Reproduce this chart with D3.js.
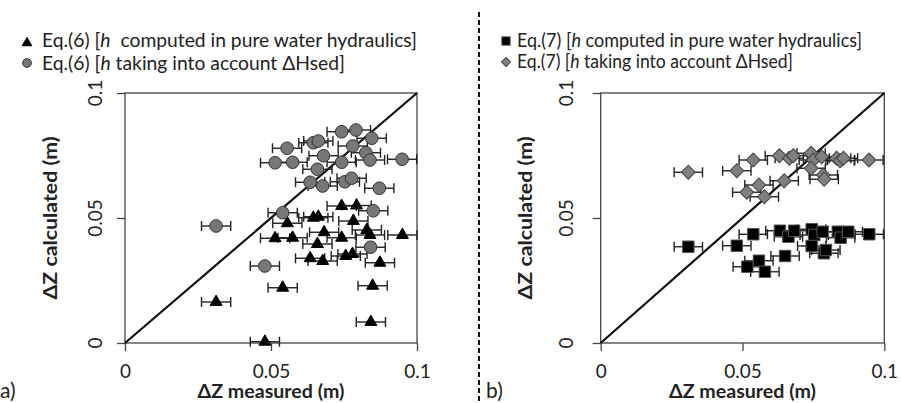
<!DOCTYPE html>
<html>
<head>
<meta charset="utf-8">
<script src="https://cdn.jsdelivr.net/npm/d3@7"></script>
<style>
body{margin:0;background:#fff}
svg{display:block}
text{font-family:Lato,"Open Sans",sans-serif;fill:#222}
</style>
</head>
<body>
<svg id="chart"></svg>
<script>
// axis ticks (both panels, both axes)
var ticks=[0,0.05,0.1];
var tickLabels=["0","0.05","0.1"];
// half width of the horizontal error bars (m)
var xErr=0.005;

// panel a) Eq.(6), h computed in pure water hydraulics (triangles)
var triX=[0.0742,0.0793,0.0645,0.0662,0.0556,0.0782,0.0682,0.0514,0.0574,0.0742,0.0828,0.0839,0.0950,0.0659,0.0634,0.0677,0.0756,0.0779,0.0873,0.0540,0.0848,0.0312,0.0842,0.0479];
var triY=[0.0548,0.0550,0.0501,0.0505,0.0479,0.0488,0.0443,0.0419,0.0421,0.0421,0.0452,0.0432,0.0432,0.0396,0.0339,0.0328,0.0348,0.0356,0.0321,0.0221,0.0229,0.0164,0.0084,0.0005];
// panel a) Eq.(6), h taking into account dHsed (circles)
var cirX=[0.0742,0.0791,0.0845,0.0555,0.0645,0.0662,0.0780,0.0825,0.0680,0.0839,0.0949,0.0514,0.0574,0.0742,0.0659,0.0634,0.0677,0.0753,0.0776,0.0871,0.0540,0.0850,0.0312,0.0841,0.0479];
var cirY=[0.0845,0.0852,0.0819,0.0779,0.0801,0.0808,0.0788,0.0761,0.0749,0.0732,0.0735,0.0721,0.0723,0.0723,0.0695,0.0643,0.0628,0.0645,0.0659,0.0619,0.0521,0.0529,0.0468,0.0383,0.0308];

// panel b) Eq.(7), h computed in pure water hydraulics (squares)
var sqX=[0.0309,0.0480,0.0538,0.0558,0.0517,0.0579,0.0650,0.0632,0.0662,0.0682,0.0744,0.0753,0.0744,0.0783,0.0787,0.0794,0.0836,0.0846,0.0873,0.0947];
var sqY=[0.0385,0.0389,0.0435,0.0329,0.0305,0.0285,0.0348,0.0449,0.0425,0.0449,0.0455,0.0432,0.0388,0.0445,0.0359,0.0372,0.0445,0.0421,0.0445,0.0435];
// panel b) Eq.(7), h taking into account dHsed (diamonds)
var diaX=[0.0309,0.0480,0.0538,0.0558,0.0515,0.0577,0.0647,0.0630,0.0665,0.0679,0.0742,0.0750,0.0742,0.0779,0.0785,0.0788,0.0832,0.0844,0.0856,0.0946];
var diaY=[0.0683,0.0689,0.0732,0.0632,0.0603,0.0585,0.0649,0.0749,0.0739,0.0749,0.0759,0.0732,0.0699,0.0745,0.0672,0.0655,0.0739,0.0729,0.0739,0.0732];

var W=901,H=403;
var svg=d3.select("#chart").attr("width",W).attr("height",H);

var zip=function(xs,ys){
    return xs.map(function(d,i){return {x:d,y:ys[i]}})
}

var drawSeries=function(g,pts,xScale,yScale,sym){
    var eb=g.append("g").attr("stroke","#222").attr("stroke-width",1.4).attr("fill","none");
    pts.forEach(function(p){
        var y=yScale(p.y), a=xScale(p.x-xErr), b=xScale(p.x+xErr);
        eb.append("line").attr("x1",a).attr("x2",b).attr("y1",y).attr("y2",y);
        eb.append("line").attr("x1",a).attr("x2",a).attr("y1",y-5).attr("y2",y+5);
        eb.append("line").attr("x1",b).attr("x2",b).attr("y1",y-5).attr("y2",y+5);
    });
    g.append("g").selectAll("path")
    .data(pts)
    .enter()
    .append("path")
    .attr("d",d3.symbol().type(sym.type).size(sym.size))
    .attr("transform",function(p){
        return "translate("+xScale(p.x)+","+yScale(p.y)+") rotate("+sym.rot+")"
    })
    .attr("fill",sym.fill)
    .attr("stroke",sym.stroke)
    .attr("stroke-width",1)
}

var drawPanel=function(cfg){
    var xScale=d3.scaleLinear().domain([0,0.1]).range([cfg.left,cfg.right]);
    var yScale=d3.scaleLinear().domain([0,0.1]).range([343,93]);
    var g=svg.append("g");

    var xAxis=d3.axisBottom(xScale).tickValues(ticks)
        .tickFormat(function(d,i){return tickLabels[i]})
        .tickSize(8).tickPadding(14).tickSizeOuter(0);
    var gx=g.append("g").attr("transform","translate(0,"+yScale(0)+")").call(xAxis);
    gx.select(".domain").remove();
    gx.selectAll("line").attr("stroke","#444").attr("stroke-width",1.3);
    gx.selectAll("text").attr("font-size",19).attr("font-family","Lato").attr("fill","#222");

    var yAxis=d3.axisLeft(yScale).tickValues(ticks).tickFormat("").tickSize(8).tickSizeOuter(0);
    var gy=g.append("g").attr("transform","translate("+xScale(0)+",0)").call(yAxis);
    gy.select(".domain").remove();
    gy.selectAll("line").attr("stroke","#444").attr("stroke-width",1.3);
    g.append("g").selectAll("text")
    .data(ticks)
    .enter()
    .append("text")
    .attr("transform",function(d){return "translate("+cfg.yTickX+","+yScale(d)+") rotate(-90)"})
    .attr("text-anchor","middle")
    .attr("font-size",19)
    .text(function(d,i){return tickLabels[i]});

    g.append("rect")
    .attr("x",xScale(0)).attr("y",yScale(0.1))
    .attr("width",xScale(0.1)-xScale(0)).attr("height",yScale(0)-yScale(0.1))
    .attr("fill","none").attr("stroke","#444").attr("stroke-width",1.3);

    // 1:1 line
    g.append("line")
    .attr("x1",xScale(0)).attr("y1",yScale(0))
    .attr("x2",xScale(0.1)).attr("y2",yScale(0.1))
    .attr("stroke","#111").attr("stroke-width",2.2);

    cfg.series.forEach(function(s){
        drawSeries(g,s.pts,xScale,yScale,s.sym)
    });

    g.append("text")
    .attr("x",(cfg.left+cfg.right)/2).attr("y",398)
    .attr("text-anchor","middle").attr("font-size",18).attr("font-weight","bold")
    .attr("textLength",147).attr("lengthAdjust","spacingAndGlyphs")
    .text("ΔZ measured (m)");
    g.append("text")
    .attr("transform","translate("+cfg.yTitleX+",218) rotate(-90)")
    .attr("text-anchor","middle").attr("font-size",18).attr("font-weight","bold")
    .attr("textLength",163).attr("lengthAdjust","spacingAndGlyphs")
    .text("ΔZ calculated (m)");
    g.append("text")
    .attr("x",cfg.tagX).attr("y",398).attr("font-size",21)
    .text(cfg.tag);

    // legend
    cfg.legend.forEach(function(l,i){
        g.append("path")
        .attr("d",d3.symbol().type(l.sym.type).size(l.size))
        .attr("transform","translate("+cfg.legX+","+l.my+") rotate("+l.sym.rot+")")
        .attr("fill",l.sym.fill).attr("stroke",l.sym.stroke).attr("stroke-width",1);
        var t=g.append("text")
        .attr("x",cfg.legTextX).attr("y",l.ty)
        .attr("font-size",cfg.legSize)
        .attr("textLength",l.len).attr("lengthAdjust","spacingAndGlyphs")
        .style("white-space","pre");
        t.append("tspan").text(l.pre);
        t.append("tspan").attr("font-style","italic").text("h");
        t.append("tspan").text(l.post);
    });
}

var symTri={type:d3.symbolTriangle,size:62,fill:"#000",stroke:"#000",rot:0};
var symCir={type:d3.symbolCircle,size:125,fill:"#777",stroke:"#333",rot:0};
var symSq={type:d3.symbolSquare,size:132,fill:"#000",stroke:"#555",rot:0};
var symDia={type:d3.symbolSquare,size:96,fill:"#808080",stroke:"#444",rot:45};

drawPanel({
    left:125,right:417,yTickX:102,yTitleX:57,tag:"a)",tagX:0,
    legX:27,legTextX:42,legSize:20,
    series:[{pts:zip(triX,triY),sym:symTri},{pts:zip(cirX,cirY),sym:symCir}],
    legend:[
        {sym:symTri,size:40,my:43,ty:47,len:375,pre:"Eq.(6) [",post:"  computed in pure water hydraulics]"},
        {sym:symCir,size:60,my:63,ty:70,len:303,pre:"Eq.(6) [",post:" taking into account ΔHsed]"}
    ]
});
drawPanel({
    left:600.7,right:884.3,yTickX:573,yTitleX:532,tag:"b)",tagX:486,
    legX:506,legTextX:517,legSize:18.5,
    series:[{pts:zip(sqX,sqY),sym:symSq},{pts:zip(diaX,diaY),sym:symDia}],
    legend:[
        {sym:symSq,size:70,my:41,ty:47,len:345,pre:"Eq.(7) [",post:" computed in pure water hydraulics]"},
        {sym:symDia,size:40,my:62,ty:68,len:276,pre:"Eq.(7) [",post:" taking into account ΔHsed]"}
    ]
});

// dashed separator between the panels
svg.append("line")
.attr("x1",479).attr("x2",479).attr("y1",12).attr("y2",H)
.attr("stroke","#111").attr("stroke-width",2).attr("stroke-dasharray","5,3");
</script>
</body>
</html>
